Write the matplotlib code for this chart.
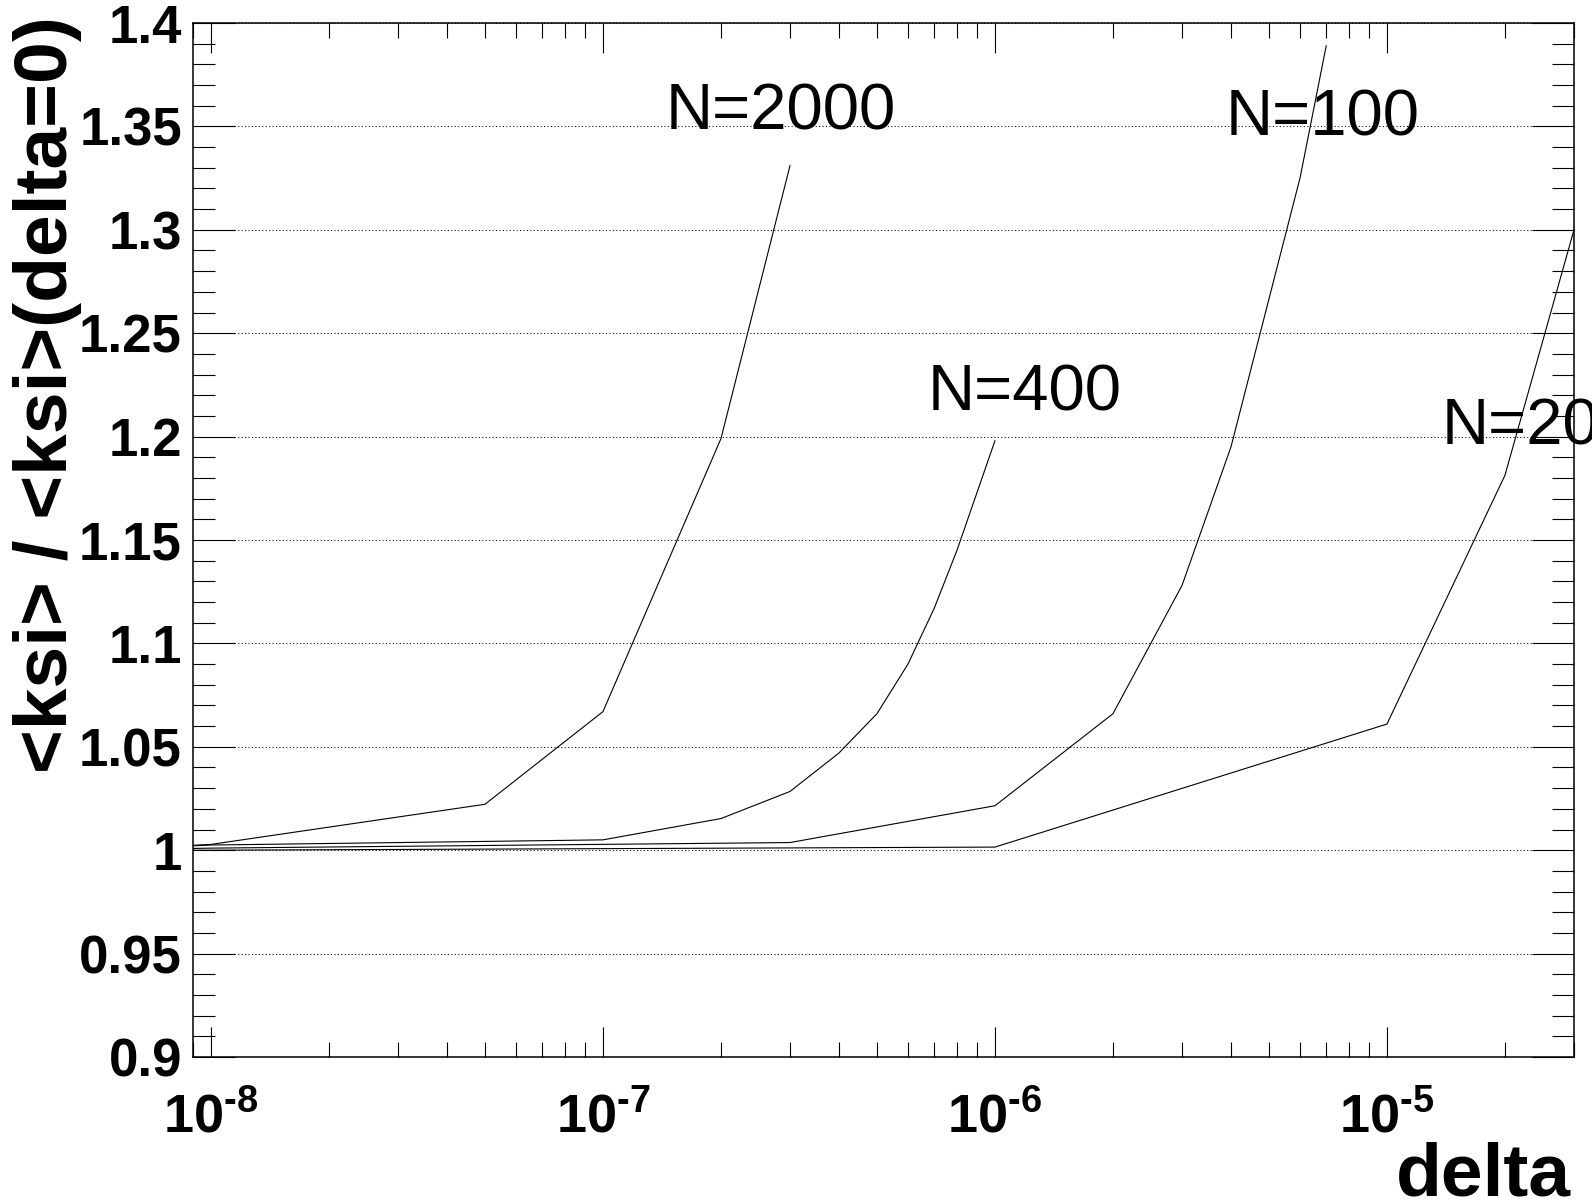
import matplotlib
matplotlib.use("Agg")
import matplotlib.pyplot as plt
from matplotlib.ticker import FixedLocator, NullFormatter, LogLocator, MultipleLocator

# ---------------- data ----------------
delta_n2000 = [5e-9, 1e-8, 5e-8, 1e-7, 2e-7, 3e-7]
ratio_n2000 = [1.000, 1.0028, 1.0222, 1.067, 1.199, 1.331]

delta_n400 = [5e-9, 1e-8, 1e-7, 2e-7, 3e-7, 4e-7, 5e-7, 6e-7, 7e-7, 8e-7, 1e-6]
ratio_n400 = [1.000, 1.0025, 1.005, 1.0153, 1.0284, 1.047, 1.066, 1.090, 1.117, 1.145, 1.198]

delta_n100 = [5e-9, 1e-8, 3e-7, 1e-6, 2e-6, 3e-6, 4e-6, 6e-6, 7e-6]
ratio_n100 = [1.000, 1.001, 1.0037, 1.0215, 1.066, 1.128, 1.195, 1.325, 1.389]

delta_n20 = [5e-9, 1e-8, 1e-6, 1e-5, 2e-5, 3e-5]
ratio_n20 = [1.000, 1.000, 1.0015, 1.061, 1.1813, 1.300]

curve_labels = ["N=2000", "N=400", "N=100", "N=20"]
label_x = [1.445e-7, 6.73e-7, 3.87e-6, 1.38e-5]
label_y = [1.3483, 1.2124, 1.3458, 1.196]

y_ticks = [0.9, 0.95, 1.0, 1.05, 1.1, 1.15, 1.2, 1.25, 1.3, 1.35, 1.4]
y_ticklabels = ["0.9", "0.95", "1", "1.05", "1.1", "1.15", "1.2", "1.25", "1.3", "1.35", "1.4"]
x_ticks = [1e-8, 1e-7, 1e-6, 1e-5]
x_ticklabels = ["$10^{\u2010 8}$", "$10^{\u2010 7}$", "$10^{\u2010 6}$", "$10^{\u2010 5}$"]

x_title = "delta"
y_title = "<ksi> / <ksi>(delta=0)"

# ---------------- style ----------------
plt.rcParams["font.family"] = ["Liberation Sans", "DejaVu Sans"]
plt.rcParams["mathtext.fontset"] = "custom"
plt.rcParams["mathtext.rm"] = "Liberation Sans:bold"
plt.rcParams["mathtext.bf"] = "Liberation Sans:bold"
plt.rcParams["mathtext.it"] = "Liberation Sans:bold"
plt.rcParams["mathtext.default"] = "rm"

W, H = 1592, 1204
fig = plt.figure(figsize=(W / 100, H / 100), dpi=100)
ax = fig.add_axes([193 / W, 1 - 1057 / H, (1574 - 193) / W, (1057 - 23) / H])

for xs, ys in [(delta_n2000, ratio_n2000), (delta_n400, ratio_n400),
               (delta_n100, ratio_n100), (delta_n20, ratio_n20)]:
    ax.plot(xs, ys, color="black", linewidth=0.8, zorder=3)

ax.set_xscale("log")
ax.set_xlim(9.0e-9, 3.0e-5)
ax.set_ylim(0.9, 1.4)

ax.xaxis.set_major_locator(FixedLocator(x_ticks))
ax.set_xticklabels(x_ticklabels)
ax.xaxis.set_minor_locator(LogLocator(base=10, subs=[2, 3, 4, 5, 6, 7, 8, 9], numticks=20))
ax.xaxis.set_minor_formatter(NullFormatter())

ax.yaxis.set_major_locator(FixedLocator(y_ticks))
ax.set_yticklabels(y_ticklabels)
ax.yaxis.set_minor_locator(MultipleLocator(0.01))

ax.tick_params(axis="x", which="major", direction="in", length=21.6, width=0.8,
               top=True, bottom=True, labelsize=39, pad=25)
ax.tick_params(axis="x", which="minor", direction="in", length=10.8, width=0.8,
               top=True, bottom=True)
ax.tick_params(axis="y", which="major", direction="in", length=30, width=0.8,
               left=True, right=True, labelsize=38, pad=8)
ax.tick_params(axis="y", which="minor", direction="in", length=16, width=0.8,
               left=True, right=True)
for lab in ax.get_yticklabels():
    lab.set_fontweight("bold")

for sp in ax.spines.values():
    sp.set_linewidth(1.1)

ax.yaxis.grid(True, which="major", color="black", linestyle=(0, (1, 2.3)), linewidth=0.75)
ax.xaxis.grid(False)
ax.set_axisbelow(True)

for t, xx, yy in zip(curve_labels, label_x, label_y):
    ax.text(xx, yy, t, fontsize=47, ha="left", va="baseline", color="black", zorder=4,
            clip_on=False)

fig.text(1571 / W, 1 - 1196 / H, x_title, fontsize=54, fontweight="bold",
         ha="right", va="baseline")
fig.text(13 / W, 1 - 16 / H, y_title, fontsize=54, fontweight="bold",
         ha="right", va="top", rotation=90, rotation_mode="anchor")

fig.savefig("out.png", dpi=100, facecolor="white")
